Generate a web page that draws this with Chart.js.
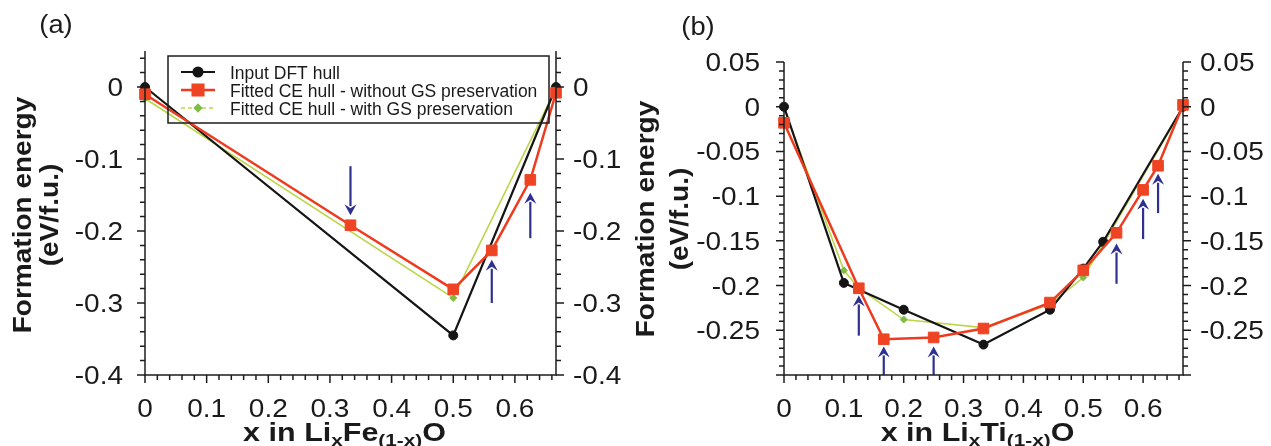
<!DOCTYPE html>
<html>
<head>
<meta charset="utf-8">
<title>Formation energy hulls</title>
<script src="https://cdn.jsdelivr.net/npm/chart.js@4.4.0/dist/chart.umd.min.js"></script>
<style>
    html, body { margin: 0; padding: 0; background: #fff; overflow: hidden; }
    #figure { position: relative; width: 1271px; height: 446px; }
    .panel { position: absolute; top: 0; height: 446px; }
    #panel-a { left: 0; width: 640px; }
    #panel-b { left: 612px; width: 659px; }
</style>
</head>
<body>
<div id="figure">
    <div class="panel" id="panel-a"><canvas id="chart-a"></canvas></div>
    <div class="panel" id="panel-b"><canvas id="chart-b"></canvas></div>
</div>
<script>
const FONT = "'Liberation Sans', Arial, Helvetica, sans-serif";
const X_MAX = 2 / 3;

// (a) Li_x Fe_(1-x) O
const feDftX = [0, 0.5, 0.6667];
const feDftE = [0, -0.345, 0];
const feNoGsX = [0, 0.3333, 0.5, 0.5625, 0.625, 0.6667];
const feNoGsE = [-0.01, -0.192, -0.281, -0.227, -0.129, -0.008];
const feGsX = [0, 0.5, 0.6667];
const feGsE = [-0.016, -0.293, -0.002];

// (b) Li_x Ti_(1-x) O
const tiDftX = [0, 0.1, 0.2, 0.3333, 0.4444, 0.5, 0.5333, 0.6667];
const tiDftE = [0, -0.197, -0.227, -0.266, -0.227, -0.181, -0.151, 0];
const tiNoGsX = [0, 0.125, 0.1667, 0.25, 0.3333, 0.4444, 0.5, 0.5556, 0.6, 0.625, 0.6667];
const tiNoGsE = [-0.018, -0.203, -0.26, -0.258, -0.248, -0.219, -0.183, -0.141, -0.093, -0.066, 0.002];
const tiGsX = [0, 0.1, 0.125, 0.2, 0.3333, 0.4444, 0.5, 0.5333, 0.6667];
const tiGsE = [-0.002, -0.183, -0.203, -0.238, -0.247, -0.221, -0.191, -0.154, -0.001];

// arrows marking the structures whose ground state changed
const feArrowX = [0.3333, 0.5625, 0.625];
const feArrowFrom = [-0.11, -0.3, -0.21];
const feArrowTo = [-0.178, -0.24, -0.147];
const tiArrowX = [0.125, 0.1667, 0.25, 0.5556, 0.6, 0.625];
const tiArrowFrom = [-0.256, -0.3, -0.3, -0.198, -0.148, -0.119];
const tiArrowTo = [-0.211, -0.268, -0.268, -0.153, -0.103, -0.075];

// tick labels
const xTicks = [0, 0.1, 0.2, 0.3, 0.4, 0.5, 0.6];
const feYTicks = [0, -0.1, -0.2, -0.3, -0.4];
const tiYTicks = [0.05, 0, -0.05, -0.1, -0.15, -0.2, -0.25];

const STYLES = {
    dft: { label: 'Input DFT hull', color: '#151515', fill: '#151515', pointStyle: 'circle', radius: 4.5, width: 2.2, order: 1 },
    noGs: { label: 'Fitted CE hull - without GS preservation', color: '#ee3b1f', fill: '#ef4424', pointStyle: 'rect', radius: 7.5, width: 2.5, order: 0 },
    gs: { label: 'Fitted CE hull - with GS preservation', color: '#bcd64a', fill: '#7dbd46', pointStyle: 'rectRot', radius: 3.5, width: 1.6, order: 2 }
};
const ARROW_COLOR = '#2f3190';

function toPoints(xs, es) {
    return xs.map((x, i) => ({ x: x, y: es[i] }));
}

function makeDataset(key, xs, es) {
    const s = STYLES[key];
    return {
        label: s.label,
        data: toPoints(xs, es),
        showLine: true,
        borderColor: s.color,
        borderWidth: s.width,
        backgroundColor: s.fill,
        pointBackgroundColor: s.fill,
        pointBorderColor: s.fill,
        pointBorderWidth: 1,
        pointStyle: s.pointStyle,
        pointRadius: s.radius,
        order: s.order,
        clip: false
    };
}

function fmt(v) {
    return String(+v.toFixed(2));
}

function isMajor(v, step) {
    const r = v / step;
    return Math.abs(r - Math.round(r)) < 1e-6;
}

function stretchText(ctx, text, x, y, align, sx) {
    ctx.save();
    ctx.translate(x, y);
    ctx.scale(sx, 1);
    ctx.textAlign = align;
    ctx.fillText(text, 0, 0);
    ctx.restore();
}

function drawArrow(ctx, x, y0, y1) {
    const dir = Math.sign(y1 - y0);
    const head = 11, half = 6, notch = 4;
    ctx.beginPath();
    ctx.moveTo(x, y0);
    ctx.lineTo(x, y1 - dir * (head - 2));
    ctx.stroke();
    ctx.beginPath();
    ctx.moveTo(x, y1);
    ctx.lineTo(x - half, y1 - dir * head);
    ctx.lineTo(x, y1 - dir * (head - notch));
    ctx.lineTo(x + half, y1 - dir * head);
    ctx.closePath();
    ctx.fill();
}

// axis lines, ticks, labels, titles, arrows and the legend box
function makeDecor(panel) {
    return {
        id: 'hullDecor',
        afterDatasetsDraw(chart) {
            const ctx = chart.ctx;
            const { left, right, top, bottom } = chart.chartArea;
            const xs = chart.scales.x, ys = chart.scales.y;
            ctx.save();

            // arrows
            ctx.strokeStyle = ARROW_COLOR;
            ctx.fillStyle = ARROW_COLOR;
            ctx.lineWidth = 2.2;
            panel.arrowX.forEach((x, i) => {
                drawArrow(ctx, xs.getPixelForValue(x),
                    ys.getPixelForValue(panel.arrowFrom[i]), ys.getPixelForValue(panel.arrowTo[i]));
            });

            // frame without a top edge
            ctx.strokeStyle = '#1c1c1c';
            ctx.lineWidth = 1.5;
            ctx.beginPath();
            ctx.moveTo(left, top);
            ctx.lineTo(left, bottom);
            ctx.lineTo(right, bottom);
            ctx.lineTo(right, top);
            ctx.stroke();

            // tick marks, pointing outward
            ctx.beginPath();
            for (let k = 0; ; k++) {
                const v = k * 0.02;
                if (v > X_MAX + 1e-9) break;
                const px = xs.getPixelForValue(v);
                const len = isMajor(v, 0.1) ? 8 : 5;
                ctx.moveTo(px, bottom);
                ctx.lineTo(px, bottom + len);
            }
            for (let k = 0; ; k++) {
                const v = panel.yMin + k * panel.yMinor;
                if (v > panel.yMax + 1e-9) break;
                const py = ys.getPixelForValue(v);
                const len = isMajor(v, panel.yMajor) ? 8 : 5;
                ctx.moveTo(left, py);
                ctx.lineTo(left - len, py);
                ctx.moveTo(right, py);
                ctx.lineTo(right + len, py);
            }
            ctx.stroke();

            // tick labels
            ctx.fillStyle = '#1a1a1a';
            ctx.font = `25px ${FONT}`;
            ctx.textBaseline = 'alphabetic';
            xTicks.forEach(v => {
                stretchText(ctx, fmt(v), xs.getPixelForValue(v), 417, 'center', 1.12);
            });
            panel.yTicks.forEach(v => {
                const py = ys.getPixelForValue(v) + 9;
                stretchText(ctx, fmt(v), left - panel.leftGap, py, 'right', 1.12);
                stretchText(ctx, fmt(v), right + panel.rightGap, py, 'left', 1.12);
            });

            // panel letter
            ctx.font = `26px ${FONT}`;
            stretchText(ctx, panel.letter, panel.letterPos[0], panel.letterPos[1], 'center', 1.05);

            // x title with subscripts
            const sx = 1.22;
            const cx = (left + right) / 2 - 6;
            const parts = panel.xTitle;
            let total = 0;
            parts.forEach(p => {
                ctx.font = p.sub ? `bold 17px ${FONT}` : `bold 25px ${FONT}`;
                total += ctx.measureText(p.t).width * sx;
            });
            let x = cx - total / 2;
            parts.forEach(p => {
                ctx.font = p.sub ? `bold 17px ${FONT}` : `bold 25px ${FONT}`;
                stretchText(ctx, p.t, x, p.sub ? 446 : 441, 'left', sx);
                x += ctx.measureText(p.t).width * sx;
            });

            // y title, two rotated lines
            ctx.font = `bold 28px ${FONT}`;
            ctx.textAlign = 'center';
            ctx.textBaseline = 'middle';
            [['Formation energy', panel.yTitle[0]], ['(eV/f.u.)', panel.yTitle[1]]].forEach(([text, px]) => {
                ctx.save();
                ctx.translate(px, panel.yTitle[2]);
                ctx.rotate(-Math.PI / 2);
                ctx.scale(1, 0.9);
                ctx.fillText(text, 0, 0);
                ctx.restore();
            });

            if (panel.legend) drawLegend(ctx);
            ctx.restore();
        }
    };
}

function drawLegend(ctx) {
    ctx.strokeStyle = '#1c1c1c';
    ctx.lineWidth = 1.5;
    ctx.strokeRect(168, 56, 381, 67);
    ctx.font = `17.5px ${FONT}`;
    ctx.textAlign = 'left';
    ctx.textBaseline = 'alphabetic';
    ['dft', 'noGs', 'gs'].forEach((key, i) => {
        const s = STYLES[key];
        const y = 72 + i * 18;
        ctx.save();
        ctx.strokeStyle = s.color;
        ctx.lineWidth = s.width;
        if (key === 'gs') ctx.setLineDash([4, 3]);
        ctx.beginPath();
        ctx.moveTo(181, y);
        ctx.lineTo(215, y);
        ctx.stroke();
        ctx.setLineDash([]);
        ctx.fillStyle = s.fill;
        ctx.strokeStyle = s.fill;
        Chart.helpers.drawPoint(ctx, { pointStyle: s.pointStyle, radius: s.radius, borderWidth: 1, rotation: 0 }, 198, y);
        ctx.restore();
        ctx.fillStyle = '#1a1a1a';
        ctx.fillText(s.label, 230, y + 6.5);
    });
}

function buildChart(panel) {
    const hidden = { display: false };
    const yScale = (side, width) => ({
        type: 'linear',
        position: side,
        min: panel.yMin,
        max: panel.yMax,
        ticks: hidden,
        grid: { display: false, drawTicks: false },
        border: hidden,
        afterFit: s => { s.width = width; }
    });
    return new Chart(document.getElementById(panel.canvas), {
        type: 'scatter',
        data: { datasets: panel.datasets },
        options: {
            responsive: true,
            maintainAspectRatio: false,
            animation: false,
            events: [],
            layout: { padding: { top: panel.top, left: 0, right: 0, bottom: 0 } },
            plugins: { legend: hidden, tooltip: { enabled: false } },
            scales: {
                x: {
                    type: 'linear',
                    min: 0,
                    max: X_MAX,
                    ticks: hidden,
                    grid: { display: false, drawTicks: false },
                    border: hidden,
                    afterFit: s => { s.height = 71; }
                },
                y: yScale('left', panel.leftWidth),
                y2: yScale('right', panel.rightWidth)
            }
        },
        plugins: [makeDecor(panel)]
    });
}

buildChart({
    canvas: 'chart-a',
    datasets: [
        makeDataset('noGs', feNoGsX, feNoGsE),
        makeDataset('dft', feDftX, feDftE),
        makeDataset('gs', feGsX, feGsE)
    ],
    yMin: -0.4, yMax: 0.05, yMajor: 0.1, yMinor: 0.02,
    yTicks: feYTicks,
    top: 51, leftWidth: 145, rightWidth: 84,
    leftGap: 22, rightGap: 17,
    letter: '(a)', letterPos: [56, 33],
    yTitle: [24, 51, 215],
    xTitle: [{ t: 'x in Li' }, { t: 'x', sub: true }, { t: 'Fe' }, { t: '(1-x)', sub: true }, { t: 'O' }],
    arrowX: feArrowX, arrowFrom: feArrowFrom, arrowTo: feArrowTo,
    legend: true
});

buildChart({
    canvas: 'chart-b',
    datasets: [
        makeDataset('noGs', tiNoGsX, tiNoGsE),
        makeDataset('dft', tiDftX, tiDftE),
        makeDataset('gs', tiGsX, tiGsE)
    ],
    yMin: -0.3, yMax: 0.05, yMajor: 0.05, yMinor: 0.01,
    yTicks: tiYTicks,
    top: 62, leftWidth: 172, rightWidth: 88,
    leftGap: 24, rightGap: 17,
    letter: '(b)', letterPos: [86, 35],
    yTitle: [35, 69, 219],
    xTitle: [{ t: 'x in Li' }, { t: 'x', sub: true }, { t: 'Ti' }, { t: '(1-x)', sub: true }, { t: 'O' }],
    arrowX: tiArrowX, arrowFrom: tiArrowFrom, arrowTo: tiArrowTo,
    legend: false
});
</script>
</body>
</html>
